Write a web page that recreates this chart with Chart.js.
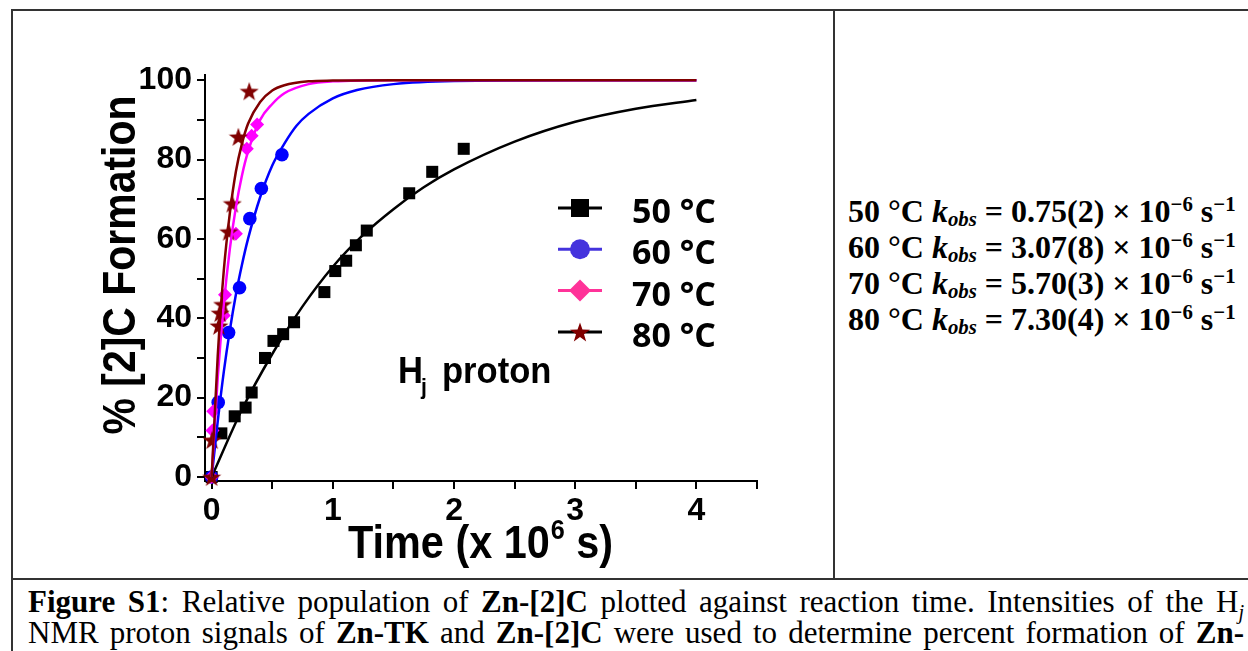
<!DOCTYPE html>
<html>
<head>
<meta charset="utf-8">
<script src="https://cdn.jsdelivr.net/npm/chart.js@4.4.1/dist/chart.umd.min.js"></script>
<style>
    html, body { margin: 0; padding: 0; background: #fff; }
    body { width: 1248px; height: 651px; position: relative; overflow: hidden; }
    #plot { position: absolute; left: 0; top: 0; }
    .rule { position: absolute; background: #333; z-index: 2; }
    #kobs {
        position: absolute; left: 848px; top: 193px;
        font: bold 32px "Liberation Serif", "Times New Roman", serif;
        line-height: 36px; white-space: nowrap; color: #000;
    }
    #kobs sup, #kobs sub, #caption sup, #caption sub { font-size: 65%; line-height: 0; }
    #kobs sup { vertical-align: 0.55em; }
    #kobs sub { vertical-align: -0.2em; }
    #caption {
        position: absolute; left: 28px; top: 586px; width: 1216px;
        font: 31px "Liberation Serif", "Times New Roman", serif;
        line-height: 31px; color: #000;
    }
    #caption div { text-align: justify; text-align-last: justify; white-space: nowrap; }
</style>
</head>
<body>
<canvas id="plot" width="834" height="578"></canvas>
<div class="rule" style="left:11px; top:9px; width:1237px; height:2px;"></div>
<div class="rule" style="left:11px; top:9px; width:2px; height:642px;"></div>
<div class="rule" style="left:833px; top:9px; width:2px; height:570px;"></div>
<div class="rule" style="left:11px; top:578px; width:1237px; height:2px;"></div>
<div id="kobs"></div>
<div id="caption">
    <div><b>Figure S1</b>: Relative population of <b>Zn-[2]C</b> plotted against reaction time. Intensities of the H<sub><i>j</i></sub></div>
    <div>NMR proton signals of <b>Zn-TK</b> and <b>Zn-[2]C</b> were used to determine percent formation of <b>Zn-</b></div>
</div>
<script>
// Series labels and fitted rate constants
var seriesLabels = ['50 °C', '60 °C', '70 °C', '80 °C'];
var kobsValues = ['0.75(2)', '3.07(8)', '5.70(3)', '7.30(4)'];

// Measured points (time in 10^6 s, % formation)
var t50 = [0, 0.08, 0.19, 0.28, 0.33, 0.44, 0.51, 0.59, 0.68, 0.93, 1.02, 1.11, 1.19, 1.28, 1.63, 1.82, 2.08];
var y50 = [0, 11.0, 15.3, 17.5, 21.3, 30.0, 34.3, 36.0, 39.0, 46.6, 51.9, 54.5, 58.4, 62.1, 71.5, 76.9, 82.7];
var t60 = [0, 0.054, 0.14, 0.23, 0.315, 0.41, 0.58];
var y60 = [0, 18.8, 36.4, 47.7, 65.1, 72.7, 81.2];
var t70 = [0, 0.007, 0.013, 0.10, 0.11, 0.20, 0.29, 0.33, 0.375];
var y70 = [0, 11.7, 16.6, 40.7, 45.9, 61.3, 82.7, 86.0, 88.8];
var t80 = [0, 0.004, 0.06, 0.07, 0.09, 0.14, 0.17, 0.22, 0.31];
var y80 = [0, 9.3, 38.1, 41.3, 43.5, 61.8, 68.9, 85.7, 97.2];

// Fit curves
var fit50T = [0, 0.25, 0.5, 0.75, 1, 1.25, 1.5, 1.75, 2, 2.5, 3, 3.5, 4];
var fit50Y = [0, 17, 31, 43, 53, 61, 67.5, 73, 77.5, 84.5, 89.5, 92.8, 95];
var fit60T = [0, 0.05, 0.1, 0.15, 0.2, 0.25, 0.3, 0.4, 0.5, 0.6, 0.7, 0.8, 1.0, 1.2, 1.5, 2, 3, 4];
var fit60Y = [0, 14, 26.5, 37, 46, 53.5, 60, 70.5, 78.5, 84, 88.5, 91.5, 95.4, 97.5, 99, 99.8, 100, 100];
var fit70T = [0, 0.05, 0.1, 0.15, 0.2, 0.25, 0.3, 0.4, 0.5, 0.6, 0.8, 1.0, 1.5, 4];
var fit70Y = [0, 25, 43.5, 57.5, 68, 76, 82, 90, 94, 96.7, 99, 99.7, 100, 100];
var fit80T = [0, 0.05, 0.1, 0.15, 0.2, 0.25, 0.3, 0.4, 0.5, 0.6, 0.8, 1.0, 1.5, 4];
var fit80Y = [0, 30.5, 52, 66.5, 77, 84, 89, 94.5, 97.4, 98.7, 99.7, 99.9, 100, 100];

// Axis ticks
var xTickValues = [0, 0.5, 1, 1.5, 2, 2.5, 3, 3.5, 4, 4.5];
var xTickLabels = ['0', '', '1', '', '2', '', '3', '', '4', ''];
var yTickValues = [0, 10, 20, 30, 40, 50, 60, 70, 80, 90, 100];
var yTickLabels = ['0', '', '20', '', '40', '', '60', '', '80', '', '100'];

var SANS = '"Liberation Sans", Arial, sans-serif';

/**
 * Zip two arrays into {x, y} points
 */
function toPoints(xs, ys) {
    return xs.map(function(x, i) {
        return {x: x, y: ys[i]};
    });
}

/**
 * Filled five point star, used as point style
 */
function makeStar(size, color) {
    var c = document.createElement('canvas');
    c.width = size;
    c.height = size;
    var g = c.getContext('2d');
    starPath(g, size / 2, size / 2 + size * 0.04, size / 2, size * 0.2);
    g.fillStyle = color;
    g.fill();
    return c;
}

function starPath(g, cx, cy, outer, inner) {
    g.beginPath();
    for (var i = 0; i < 10; i++) {
        var r = i % 2 ? inner : outer;
        var a = -Math.PI / 2 + i * Math.PI / 5;
        g.lineTo(cx + r * Math.cos(a), cy + r * Math.sin(a));
    }
    g.closePath();
}

function drawCondensed(ctx, text, x, y, sx) {
    ctx.save();
    ctx.translate(x, y);
    ctx.scale(sx, 1);
    ctx.fillText(text, 0, 0);
    ctx.restore();
    return ctx.measureText(text).width * sx;
}

// Right hand text
document.getElementById('kobs').innerHTML = seriesLabels.map(function(lbl, i) {
    return '<div><b>' + lbl + ' <i>k<sub>obs</sub></i> = ' + kobsValues[i] +
        ' × 10<sup>−6</sup> s<sup>−1</sup></b></div>';
}).join('');

var lineStyle = [
    {line: '#000000', marker: '#000000', shape: 'rect'},
    {line: '#4433dd', marker: '#4433dd', shape: 'circle'},
    {line: '#ff3399', marker: '#ff3399', shape: 'diamond'},
    {line: '#000000', marker: '#800000', shape: 'star'}
];

var overlayPlugin = {
    id: 'overlay',
    afterDraw: function(chart) {
        var ctx = chart.ctx;
        ctx.save();
        ctx.fillStyle = '#000';
        ctx.textAlign = 'left';
        ctx.textBaseline = 'alphabetic';

        // X title
        ctx.font = 'bold 46px ' + SANS;
        var x = 348;
        x += drawCondensed(ctx, 'Time (x 10', x, 558, 0.9);
        ctx.font = 'bold 28px ' + SANS;
        x += 1;
        x += drawCondensed(ctx, '6', x, 539, 0.9);
        ctx.font = 'bold 46px ' + SANS;
        drawCondensed(ctx, ' s)', x, 558, 0.9);

        // Y title
        ctx.save();
        ctx.translate(135, 265);
        ctx.rotate(-Math.PI / 2);
        ctx.scale(0.89, 1);
        ctx.textAlign = 'center';
        ctx.font = 'bold 46px ' + SANS;
        ctx.fillText('% [2]C Formation', 0, 0);
        ctx.restore();

        // H_j proton
        ctx.font = 'bold 36px ' + SANS;
        drawCondensed(ctx, 'H', 398, 383, 0.96);
        ctx.font = 'bold 22px ' + SANS;
        drawCondensed(ctx, 'j', 421, 394, 0.96);
        ctx.font = 'bold 36px ' + SANS;
        drawCondensed(ctx, 'proton', 442, 383, 0.96);

        // Legend
        ctx.font = 'bold 34px "Open Sans", ' + SANS;
        seriesLabels.forEach(function(lbl, i) {
            var base = 223 + i * 41.3;
            var cy = base - 15;
            var st = lineStyle[i];
            ctx.strokeStyle = st.line;
            ctx.lineWidth = 3;
            ctx.beginPath();
            ctx.moveTo(558, cy);
            ctx.lineTo(602, cy);
            ctx.stroke();
            ctx.fillStyle = st.marker;
            ctx.beginPath();
            if (st.shape === 'rect') {
                ctx.rect(571, cy - 9, 18, 18);
            } else if (st.shape === 'circle') {
                ctx.arc(580, cy, 10, 0, Math.PI * 2);
            } else if (st.shape === 'diamond') {
                ctx.moveTo(580, cy - 11);
                ctx.lineTo(591, cy);
                ctx.lineTo(580, cy + 11);
                ctx.lineTo(569, cy);
                ctx.closePath();
            } else {
                starPath(ctx, 580, cy + 1, 10.5, 4.2);
            }
            ctx.fill();
            ctx.fillStyle = '#000';
            ctx.fillText(lbl, 632, base);
        });
        ctx.restore();
    }
};

var starImg = makeStar(20, '#800000');

function fitSet(xs, ys, color) {
    return {
        data: toPoints(xs, ys),
        showLine: true,
        borderColor: color,
        borderWidth: 2.5,
        pointRadius: 0,
        cubicInterpolationMode: 'monotone',
        clip: false
    };
}

function pointSet(xs, ys, color, style, radius) {
    return {
        data: toPoints(xs, ys),
        showLine: false,
        pointStyle: style,
        pointRadius: radius,
        backgroundColor: color,
        borderColor: color,
        borderWidth: 0,
        clip: false
    };
}

var chart = new Chart(document.getElementById('plot'), {
    type: 'scatter',
    data: {
        datasets: [
            fitSet(fit80T, fit80Y, '#800000'),
            fitSet(fit70T, fit70Y, '#ff00ff'),
            fitSet(fit60T, fit60Y, '#0000ff'),
            fitSet(fit50T, fit50Y, '#000000'),
            pointSet(t80, y80, '#800000', starImg, 10),
            pointSet(t70, y70, '#ff00ff', 'rectRot', 7),
            pointSet(t60, y60, '#0000ff', 'circle', 6.8),
            pointSet(t50, y50, '#000000', 'rect', 8.5)
        ]
    },
    options: {
        responsive: false,
        animation: false,
        devicePixelRatio: 1,
        layout: {padding: {top: 75, right: 77, left: 0, bottom: 0}},
        plugins: {legend: {display: false}, tooltip: {enabled: false}},
        scales: {
            x: {
                type: 'linear',
                min: -0.055,
                max: 4.5,
                afterBuildTicks: function(scale) {
                    scale.ticks = xTickValues.map(function(v) { return {value: v}; });
                },
                afterFit: function(scale) { scale.height = 97; },
                ticks: {
                    color: '#000',
                    padding: 3,
                    maxRotation: 0,
                    autoSkip: false,
                    font: {family: SANS, size: 32, weight: 'bold'},
                    callback: function(v) { return xTickLabels[xTickValues.indexOf(v)]; }
                },
                grid: {display: true, drawOnChartArea: false, drawTicks: true, tickLength: 8, color: '#000', lineWidth: 2},
                border: {display: true, color: '#000', width: 2}
            },
            y: {
                type: 'linear',
                min: -1,
                max: 101.3,
                afterBuildTicks: function(scale) {
                    scale.ticks = yTickValues.map(function(v) { return {value: v}; });
                },
                afterFit: function(scale) { scale.width = 205; },
                ticks: {
                    color: '#000',
                    padding: 5,
                    autoSkip: false,
                    font: {family: SANS, size: 32, weight: 'bold'},
                    callback: function(v) { return yTickLabels[yTickValues.indexOf(v)]; }
                },
                grid: {display: true, drawOnChartArea: false, drawTicks: true, tickLength: 8, color: '#000', lineWidth: 2},
                border: {display: true, color: '#000', width: 2}
            }
        }
    },
    plugins: [overlayPlugin]
});
</script>
</body>
</html>
